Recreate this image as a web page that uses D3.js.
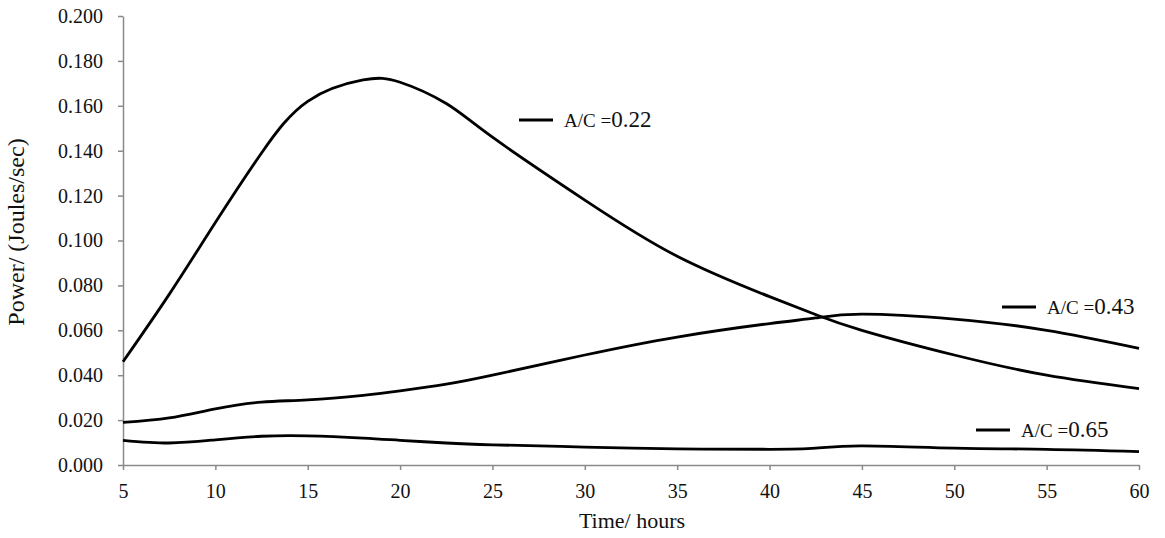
<!DOCTYPE html>
<html>
<head>
<meta charset="utf-8">
<script src="https://cdn.jsdelivr.net/npm/d3@7"></script>
<style>
  body { margin: 0; background: #fff; }
  text { font-family: "Liberation Serif", "Times New Roman", serif; fill: #111; }
</style>
</head>
<body>
<svg id="chart" width="1165" height="538"></svg>
<script>
// data
const hours = [5, 7.5, 10, 12.5, 15, 18, 20, 22.5, 25, 30, 35, 40, 42.5, 45, 50, 55, 60];
const ac022 = [0.046, 0.076, 0.108, 0.139, 0.162, 0.1715, 0.1705, 0.161, 0.146, 0.118, 0.093, 0.075, 0.067, 0.060, 0.049, 0.040, 0.034];
const ac043 = [0.019, 0.021, 0.025, 0.028, 0.029, 0.031, 0.033, 0.036, 0.040, 0.049, 0.057, 0.063, 0.0655, 0.0672, 0.065, 0.060, 0.052];
const ac065 = [0.011, 0.0098, 0.0112, 0.0128, 0.013, 0.012, 0.011, 0.0098, 0.009, 0.008, 0.0072, 0.007, 0.0075, 0.0085, 0.0075, 0.007, 0.006];
const seriesNames = ["0.22", "0.43", "0.65"];
const xTicks = [5, 10, 15, 20, 25, 30, 35, 40, 45, 50, 55, 60];
const yTicks = [0, 0.02, 0.04, 0.06, 0.08, 0.1, 0.12, 0.14, 0.16, 0.18, 0.2];

const width = 1165, height = 538;
const margin = { top: 16, right: 26, bottom: 73, left: 123 };

const svg = d3.select("#chart");

const x = d3.scaleLinear().domain([5, 60]).range([margin.left, width - margin.right]);
const y = d3.scaleLinear().domain([0, 0.2]).range([height - margin.bottom, margin.top]);

// axes
const xAxis = svg.append("g")
    .attr("transform", `translate(0,${height - margin.bottom})`)
    .call(d3.axisBottom(x).tickValues(xTicks).tickSize(5).tickPadding(14).tickSizeOuter(0));
const yAxis = svg.append("g")
    .attr("transform", `translate(${margin.left},0)`)
    .call(d3.axisLeft(y).tickValues(yTicks).tickFormat(d3.format(".3f")).tickSize(5).tickPadding(15).tickSizeOuter(0));

[xAxis, yAxis].forEach(g => {
    g.selectAll("path, line").attr("stroke", "#8a8a8a").attr("stroke-width", 1.5);
    g.selectAll("text").style("font-family", '"Liberation Serif", serif').style("font-size", "20px").attr("fill", "#111");
});

// axis titles
svg.append("text")
    .attr("x", 632)
    .attr("y", 528)
    .attr("text-anchor", "middle")
    .style("font-size", "22px")
    .text("Time/ hours");

svg.append("text")
    .attr("transform", `translate(24,232) rotate(-90)`)
    .attr("text-anchor", "middle")
    .style("font-size", "24px")
    .text("Power/ (Joules/sec)");

// lines
const line = d3.line()
    .x((d, i) => x(hours[i]))
    .y(d => y(d))
    .curve(d3.curveNatural);

[ac022, ac043, ac065].forEach(vals => {
    svg.append("path")
        .attr("d", line(vals))
        .attr("fill", "none")
        .attr("stroke", "#000")
        .attr("stroke-width", 2.8);
});

// legend labels placed beside the curves
const legendPos = [
    { lx: 519, ly: 120 },
    { lx: 1002, ly: 307 },
    { lx: 976, ly: 430 }
];
seriesNames.forEach((name, i) => {
    const p = legendPos[i];
    svg.append("line")
        .attr("x1", p.lx).attr("x2", p.lx + 34)
        .attr("y1", p.ly).attr("y2", p.ly)
        .attr("stroke", "#000").attr("stroke-width", 3);
    const t = svg.append("text")
        .attr("x", p.lx + 45)
        .attr("y", p.ly + 7);
    t.append("tspan").style("font-size", "19px").text("A/C =");
    t.append("tspan").style("font-size", "23px").text(name);
});
</script>
</body>
</html>
